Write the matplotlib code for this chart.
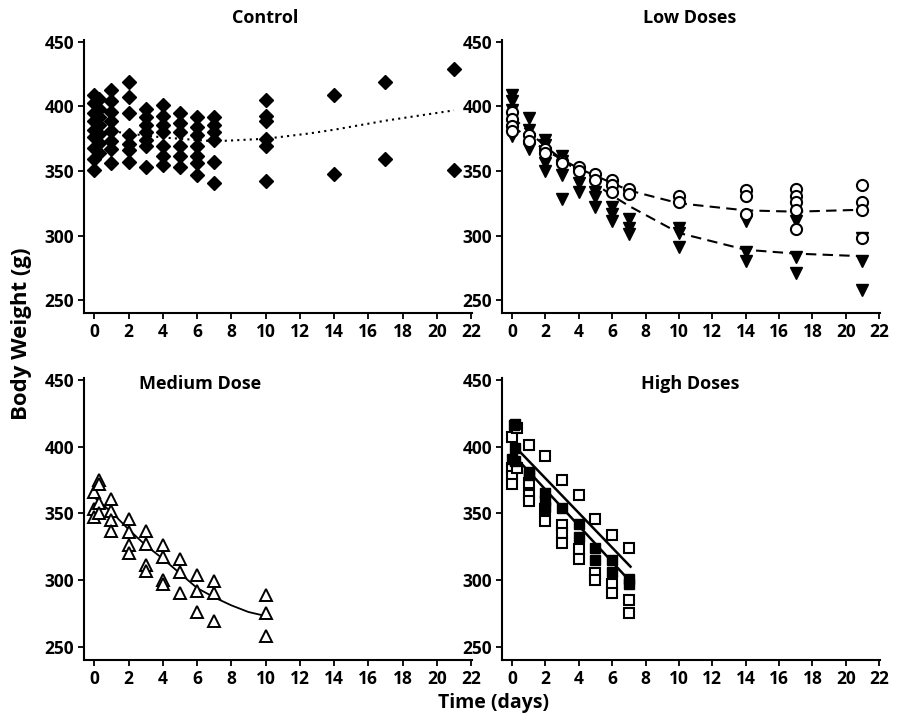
import matplotlib
matplotlib.use("Agg")
import matplotlib.pyplot as plt

plt.rcParams["font.family"] = ["Open Sans", "DejaVu Sans"]
plt.rcParams["font.weight"] = "bold"

# Control (filled diamonds)
ctrl_days = ([0] * 9 + [0.3] * 7 + [1] * 8 + [2] * 7 + [3] * 7 + [4] * 7 + [5] * 6
             + [6] * 7 + [7] * 6 + [10] * 6 + [14] * 2 + [17] * 2 + [21] * 2)
ctrl_wt = [409, 403, 395, 389, 382, 376, 368, 359, 351,
           406, 398, 392, 386, 379, 372, 364,
           413, 404, 396, 389, 381, 373, 367, 356,
           419, 407, 395, 378, 371, 366, 357,
           398, 392, 386, 380, 374, 369, 353,
           401, 393, 386, 380, 369, 362, 355,
           395, 387, 380, 369, 362, 353,
           392, 384, 378, 369, 362, 356, 347,
           392, 386, 380, 374, 357, 341,
           405, 393, 389, 375, 369, 342,
           409, 348, 419, 359, 429, 351]
ctrl_fit_days = [0, 2, 4, 7, 10, 12.5, 14, 17, 21]
ctrl_fit = [383, 379, 376, 373, 375, 379, 382, 389, 397]

# Low doses: filled down-triangles and open circles
low_tri_days = ([0] * 7 + [1] * 4 + [2] * 5 + [3] * 5 + [4] * 3 + [5] * 3 + [6] * 3
                + [7] * 3 + [10] * 3 + [14] * 3 + [17] * 3 + [21] * 3)
low_tri_wt = [404, 409, 397, 391, 386, 382, 377,
              391, 382, 375, 367,
              374, 370, 364, 356, 350,
              362, 358, 354, 347, 328,
              348, 341, 334,
              334, 330, 322,
              322, 317, 311,
              313, 306, 301,
              306, 302, 291,
              311, 287, 280,
              311, 283, 271,
              298, 280, 258]
low_circ_days = ([0] * 4 + [1] * 2 + [2] * 2 + [3] * 2 + [4] * 2 + [5] * 2 + [6] * 3
                 + [7] * 2 + [10] * 2 + [14] * 3 + [17] * 5 + [21] * 4)
low_circ_wt = [396, 390, 385, 381,
               378, 373,
               367, 364,
               358, 356,
               353, 350,
               348, 343,
               343, 339, 334,
               336, 332,
               331, 326,
               335, 331, 317,
               336, 331, 326, 320, 305,
               339, 326, 320, 298]
low_tri_fit_days = [0, 2, 4, 6, 7, 10, 14, 17, 21]
low_tri_fit = [392, 369, 349, 331, 323, 302, 289, 286, 284]
low_circ_fit_days = [0, 2, 4, 7, 10, 14, 17, 21]
low_circ_fit = [385, 366, 352, 335, 325, 319.5, 318.5, 320]

# Medium dose (open up-triangles)
med_days = ([0] * 3 + [0.3] * 4 + [1] * 4 + [2] * 4 + [3] * 4 + [4] * 4 + [5] * 3
            + [6] * 3 + [7] * 3 + [10] * 3)
med_wt = [366, 353, 347,
          375, 372, 358, 350,
          361, 352, 345, 337,
          346, 336, 326, 320,
          337, 327, 311, 307,
          326, 317, 300, 297,
          316, 306, 290,
          304, 292, 276,
          299, 290, 269,
          289, 275, 258]
med_fit_days = [0, 1, 2, 3, 4, 5, 6, 7, 8, 9, 10]
med_fit = [362, 351, 338, 326, 316, 305, 294, 287, 281, 276, 273]

# High doses: filled and open squares
high_fill_days = [0.1, 0.2, 0, 0.2, 0.2, 1, 1, 2, 2, 2, 3, 4, 4, 5, 5, 6, 6, 7, 7]
high_fill_wt = [416, 417, 391, 399, 389, 381, 379, 365, 360, 355, 354,
                342, 332, 324, 315, 315, 306, 301, 297]
high_open_days = ([0] * 4 + [0.3] * 2 + [1] * 4 + [2] * 3 + [3] * 4 + [4] * 3
                  + [5] * 3 + [6] * 3 + [7] * 3)
high_open_wt = [407, 384, 378, 372, 414, 384,
                401, 373, 364, 359,
                393, 353, 344,
                375, 341, 335, 328,
                364, 323, 316,
                346, 305, 300,
                334, 297, 290,
                324, 285, 275]
high_fit_a_days = [0.1, 7.1]
high_fit_a = [401, 310]
high_fit_b_days = [0, 7]
high_fit_b = [395, 300]

fig = plt.figure(figsize=(8.98, 7.22), dpi=100)
W, H = 898, 722


def make_ax(x0, x1, y0, y1):
    ax = fig.add_axes([x0 / W, 1 - y1 / H, (x1 - x0) / W, (y1 - y0) / H])
    ax.set_xlim(-0.6, 22.05)
    ax.set_ylim(240, 451.5)
    ax.set_xticks(range(0, 23, 2))
    ax.set_yticks([250, 300, 350, 400, 450])
    for s in ["top", "right"]:
        ax.spines[s].set_visible(False)
    for s in ["left", "bottom"]:
        ax.spines[s].set_linewidth(1.5)
    ax.tick_params(direction="out", length=4, width=1.3, labelsize=12.5, pad=3)
    for lab in ax.get_xticklabels() + ax.get_yticklabels():
        lab.set_fontweight("bold")
    return ax


ax1 = make_ax(84, 472, 40, 313)
ax2 = make_ax(502, 880, 40, 313)
ax3 = make_ax(84, 472, 378, 660)
ax4 = make_ax(502, 880, 378, 660)

# Control
ax1.plot(ctrl_fit_days, ctrl_fit, color="black", linestyle=(0, (1, 2)), lw=1.5, zorder=1)
ax1.plot(ctrl_days, ctrl_wt, "D", color="black", ms=7.2, zorder=2)
ax1.text(0.466, 1.08, "Control", transform=ax1.transAxes, ha="center", va="center",
         fontsize=13, fontweight="bold")

# Low doses
ax2.plot(low_circ_fit_days, low_circ_fit, color="black", linestyle=(0, (5, 3)), lw=1.5, zorder=1)
ax2.plot(low_tri_fit_days, low_tri_fit, color="black", linestyle=(0, (5, 3)), lw=1.5, zorder=1)
ax2.plot(low_tri_days, low_tri_wt, "v", color="black", ms=8.5, zorder=2)
ax2.plot(low_circ_days, low_circ_wt, "o", mfc="white", mec="black", mew=1.5, ms=8, zorder=3)
ax2.text(0.497, 1.08, "Low Doses", transform=ax2.transAxes, ha="center", va="center",
         fontsize=13, fontweight="bold")

# Medium dose
ax3.plot(med_fit_days, med_fit, color="black", lw=1.3, zorder=1)
ax3.plot(med_days, med_wt, "^", mfc="white", mec="black", mew=1.4, ms=8.5, zorder=2)
ax3.text(0.30, 0.979, "Medium Dose", transform=ax3.transAxes, ha="center", va="center",
         fontsize=13, fontweight="bold")

# High doses
ax4.plot(high_fit_a_days, high_fit_a, color="black", lw=1.8, zorder=1)
ax4.plot(high_fit_b_days, high_fit_b, color="black", lw=1.8, zorder=1)
ax4.plot(high_open_days, high_open_wt, "s", mfc="white", mec="black", mew=1.5, ms=7, zorder=2)
ax4.plot(high_fill_days, high_fill_wt, "s", color="black", ms=7, zorder=3)
ax4.text(0.497, 0.979, "High Doses", transform=ax4.transAxes, ha="center", va="center",
         fontsize=13, fontweight="bold")

fig.text(22 / W, 1 - 334 / H, "Body Weight (g)", rotation=90, ha="center", va="center",
         fontsize=16, fontweight="bold")
fig.text(494 / W, 1 - 703 / H, "Time (days)", ha="center", va="center",
         fontsize=14, fontweight="bold")

fig.savefig("out.png", dpi=100)
